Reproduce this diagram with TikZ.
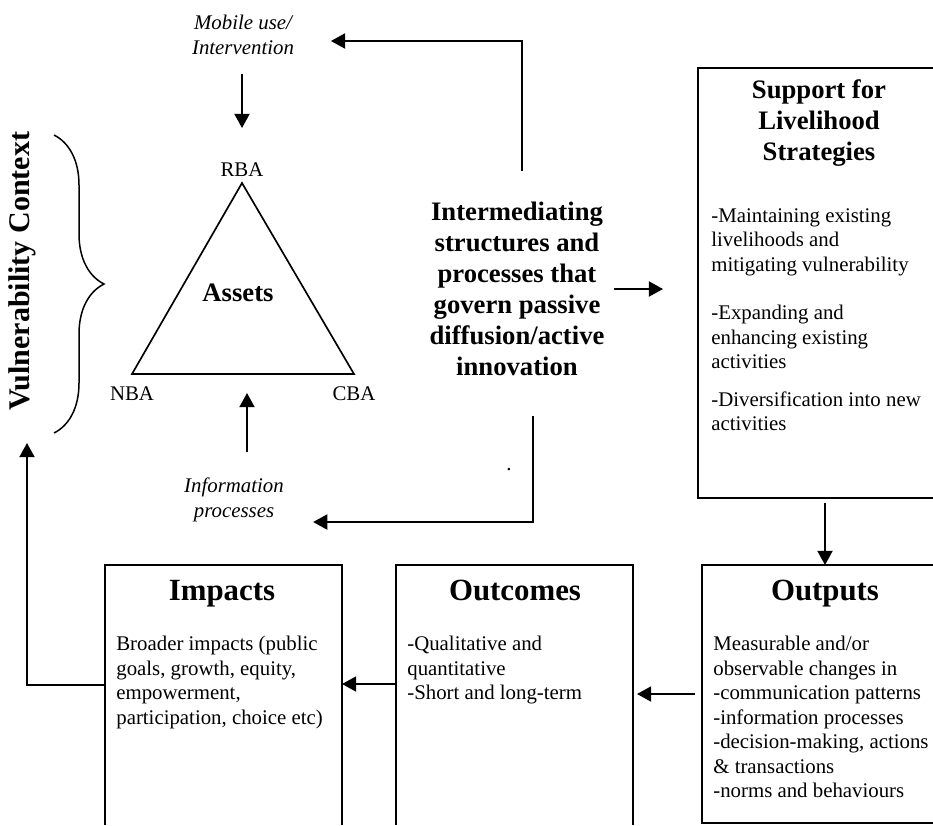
\documentclass[tikz,border=0pt]{standalone}
\usepackage{fontspec}
\setmainfont{Liberation Serif}
\usetikzlibrary{arrows.meta,positioning,decorations.pathreplacing}

\tikzset{
  txt/.style={font=\fontsize{12.5}{14.7}\selectfont, inner sep=0pt},
  body/.style={txt, align=left, anchor=north west},
  lbl/.style={font=\fontsize{12.5}{15.4}\selectfont\itshape, align=center, inner sep=0pt},
  head/.style={font=\fontsize{16}{18.6}\selectfont\bfseries, align=center, inner sep=0pt},
  boxhead/.style={font=\fontsize{18.5}{22}\selectfont\bfseries, inner sep=0pt, anchor=base},
  vuln/.style={font=\fontsize{18}{21}\selectfont\bfseries, inner sep=0pt, rotate=90},
  boxn/.style 2 args={minimum width=#1*0.6pt, minimum height=#2*0.6pt, inner sep=0pt, outer sep=0pt},
  frame/.style={line width=1.2pt},
  tri/.style={line width=1pt, line join=miter},
  brc/.style={line width=0.9pt, decorate, decoration={brace, amplitude=30pt}},
  flow/.style={-{Triangle[length=8.5pt,width=9pt]}, line width=1.2pt}
}

\begin{document}
\begin{tikzpicture}[x=0.6pt, y=-0.6pt]
  \useasboundingbox (0,0) rectangle (933,825);

  % assets triangle
  \coordinate (t_r) at (242,183);
  \coordinate (t_n) at (132,374);
  \coordinate (t_c) at (354,374);
  \coordinate (t_b) at (247,374);
  \draw[tri] (t_r) -- (t_n) -- (t_c) -- cycle;
  \node[txt, above=3.5pt of t_r] (rba) {RBA};
  \node[txt, below=7.5pt of t_n] (nba) {NBA};
  \node[txt, below=7.5pt of t_c] (cba) {CBA};
  \node[head] (assets) at (238,293) {Assets};

  % vulnerability context
  \node[vuln] (vul) at (22,271) {Vulnerability Context};
  \draw[brc] (54,135) -- (54,433);
  \coordinate (v_c) at (27,443);

  \node[lbl] (mob) at (243,35) {Mobile use/\\Intervention};
  \node[lbl] (info) at (234,500) {Information\\processes};
  \node[head] (inter) at (517,289) {Intermediating\\structures and\\processes that\\govern passive\\diffusion/active\\innovation};
  \node[txt] (dot) at (509,470) {.};
  \coordinate (up_c) at (522,41);
  \coordinate (dn_c) at (533,522);

  % boxes
  \node[boxn={235}{430}] (supp) at (815.5,283) {};
  \node[boxn={231}{258}] (outp) at (817.5,694) {};
  \node[boxn={237}{260}] (outc) at (514.5,695) {};
  \node[boxn={237}{260}] (imp) at (223.5,695) {};
  \draw[frame] (supp.north east) -| (supp.south west) -- (supp.south east);
  \draw[frame] (outp.north east) -| (outp.south west) -- (outp.south east);
  \draw[frame] (outc.south west) |- (outc.north east) -- (outc.south east);
  \draw[frame] (imp.south west) |- (imp.north east) -- (imp.south east);

  \node[head] (suppT) at (819,123) {Support for\\Livelihood\\Strategies};
  \node[body] (suppB) at (711,208) {-Maintaining existing\\livelihoods and\\mitigating vulnerability\\[14.4pt]-Expanding and\\enhancing existing\\activities\\[8pt]-Diversification into new\\activities};

  \node[boxhead] (outT) at (825,600) {Outputs};
  \node[body] (outB) at (713,636) {Measurable and/or\\observable changes in\\-communication patterns\\-information processes\\-decision-making, actions\\\& transactions\\-norms and behaviours};

  \node[boxhead] (outcT) at (515,600) {Outcomes};
  \node[body] (outcB) at (407,636) {-Qualitative and\\quantitative\\-Short and long-term};

  \node[boxhead] (impT) at (222,600) {Impacts};
  \node[body] (impB) at (116,636) {Broader impacts (public\\goals, growth, equity,\\empowerment,\\participation, choice etc)};

  % connectors
  \draw[flow, shorten <=11pt, shorten >=33pt] (mob.south -| t_r) -- (t_r);
  \draw[flow, shorten <=15pt, shorten >=11.4pt] (info.north -| t_b) -- (t_b);
  \draw[flow, shorten <=18.6pt, shorten >=22pt] (inter.north -| up_c) |- (mob.east |- up_c);
  \draw[flow, shorten <=24pt, shorten >=17.4pt] (inter.south -| dn_c) |- (info.east |- dn_c);
  \draw[flow, shorten <=5.4pt, shorten >=21pt] (inter.east) -- (inter.east -| supp.west);
  \draw[flow, shorten <=3pt] (supp.south -| outT) -- (outp.north -| outT);
  \draw[flow, shorten <=4.2pt, shorten >=2.4pt] (outp.west) -- (outp.west -| outc.east);
  \draw[flow] ([yshift=6.6pt]outc.west) -- ([yshift=6.6pt]outc.west -| imp.east);
  \draw[flow] ([yshift=6pt]imp.west) -| (v_c);
\end{tikzpicture}
\end{document}
